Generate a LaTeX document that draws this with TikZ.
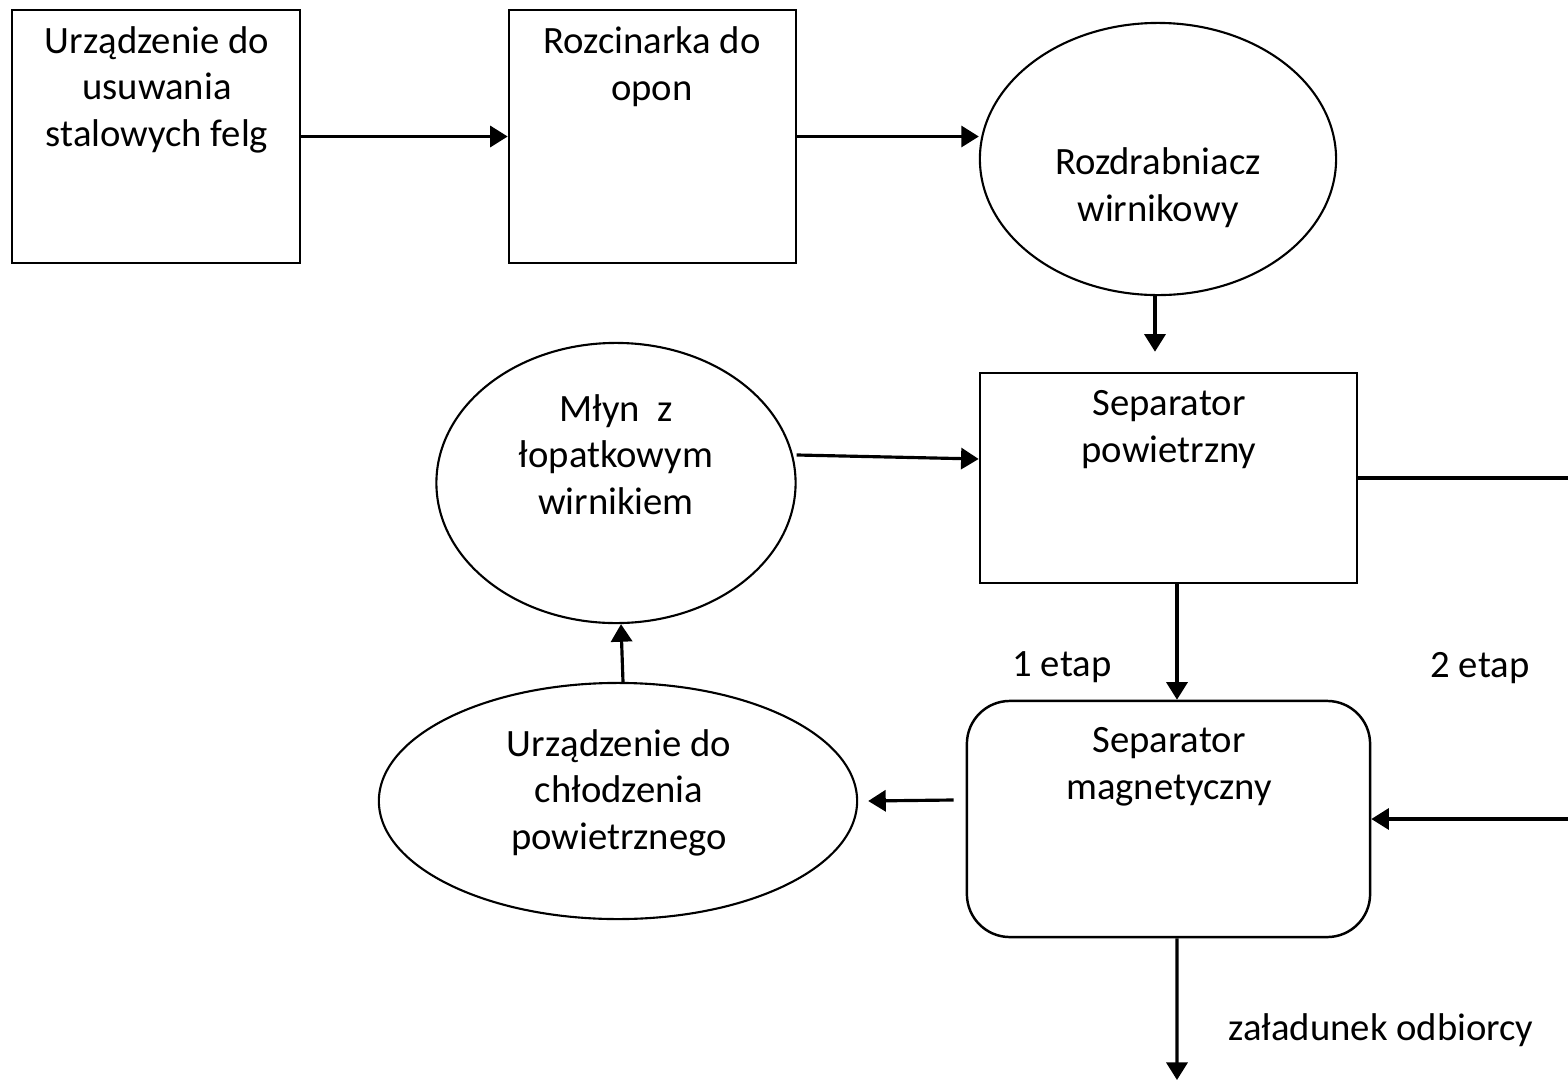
\documentclass[tikz,border=0pt]{standalone}
\usepackage{fontspec}
\setmainfont{Carlito}
\usetikzlibrary{shapes.geometric,arrows.meta}
\begin{document}
\begin{tikzpicture}[x=0.01cm,y=0.01cm]
            \tikzstyle{every node}+=[inner sep=0pt, font=\fontsize{11}{13.2}\selectfont]
            \tikzstyle{blok}=[draw=black, line width=0.7pt, rectangle]
            \tikzstyle{owal}=[draw=black, line width=0.6pt, ellipse]
            \tikzstyle{opis}=[align=center, anchor=base]
            \tikzstyle{strz}=[draw=black, line width=0.9pt, -{Triangle[length=5pt,width=6pt]}]
            \useasboundingbox (0,0) rectangle (1568,-1081);
            \node [blok, minimum width=2.88cm, minimum height=2.53cm] (felgi) at (156,-136.5) {};
            \node [opis] (felgi-t) at (157,-146) {Urządzenie do\\usuwania\\stalowych felg};
            \node [blok, minimum width=2.87cm, minimum height=2.53cm] (rozc) at (652.5,-136.5) {};
            \node [opis] (rozc-t) at (652,-100) {Rozcinarka do\\opon};
            \node [owal, minimum width=3.56cm, minimum height=2.72cm] (rozdr) at (1158,-159) {};
            \node [opis] (rozdr-t) at (1158,-221) {Rozdrabniacz\\wirnikowy};
            \node [blok, minimum width=3.77cm, minimum height=2.10cm] (seppow) at (1168.5,-478) {};
            \node [opis] (seppow-t) at (1169,-462) {Separator\\powietrzny};
            \node [owal, minimum width=3.59cm, minimum height=2.80cm] (mlyn) at (616,-483) {};
            \node [opis] (mlyn-t) at (616,-514) {Młyn\ \ z\\łopatkowym\\wirnikiem};
            \node [owal, minimum width=4.78cm, minimum height=2.36cm] (chlod) at (618,-801) {};
            \node [opis] (chlod-t) at (619,-849) {Urządzenie do\\chłodzenia\\powietrznego};
            \node [blok, rounded corners=0.43cm, minimum width=4.03cm, minimum height=2.36cm] (sepmag) at (1168.5,-819) {};
            \node [opis] (sepmag-t) at (1169,-799) {Separator\\magnetyczny};
            \node [opis] (etap1) at (1062,-676) {1 etap};
            \node [opis] (etap2) at (1480,-677) {2 etap};
            \node [opis] (odb-t) at (1381,-1040) {załadunek odbiorcy};
            \coordinate (prawo) at (1570,-478);
            \coordinate (odb) at (1177,-1080);
            \draw [strz] (felgi.east) -- (rozc.west);
            \draw [strz] (rozc.east) -- (rozc.east -| rozdr.west);
            \draw [strz, shorten >=0.2cm] ([xshift=-0.03cm]rozdr.south) -- ([xshift=-0.03cm]rozdr.south |- seppow.north);
            \draw [strz] ([yshift=0.28cm]mlyn.east) -- ([yshift=0.19cm]seppow.west);
            \draw [strz] ([xshift=0.085cm]seppow.south) -- ([xshift=0.085cm]sepmag.north);
            \draw [strz] (seppow.east) -- (prawo) |- (sepmag.east);
            \draw [strz] ([xshift=-0.12cm,yshift=0.19cm]sepmag.west) -- ([xshift=0.1cm]chlod.east);
            \draw [strz] ([xshift=0.05cm]chlod.north) -- ([xshift=0.05cm]mlyn.south);
            \draw [strz] ([xshift=0.085cm]sepmag.south) -- (odb);
\end{tikzpicture}
\end{document}
